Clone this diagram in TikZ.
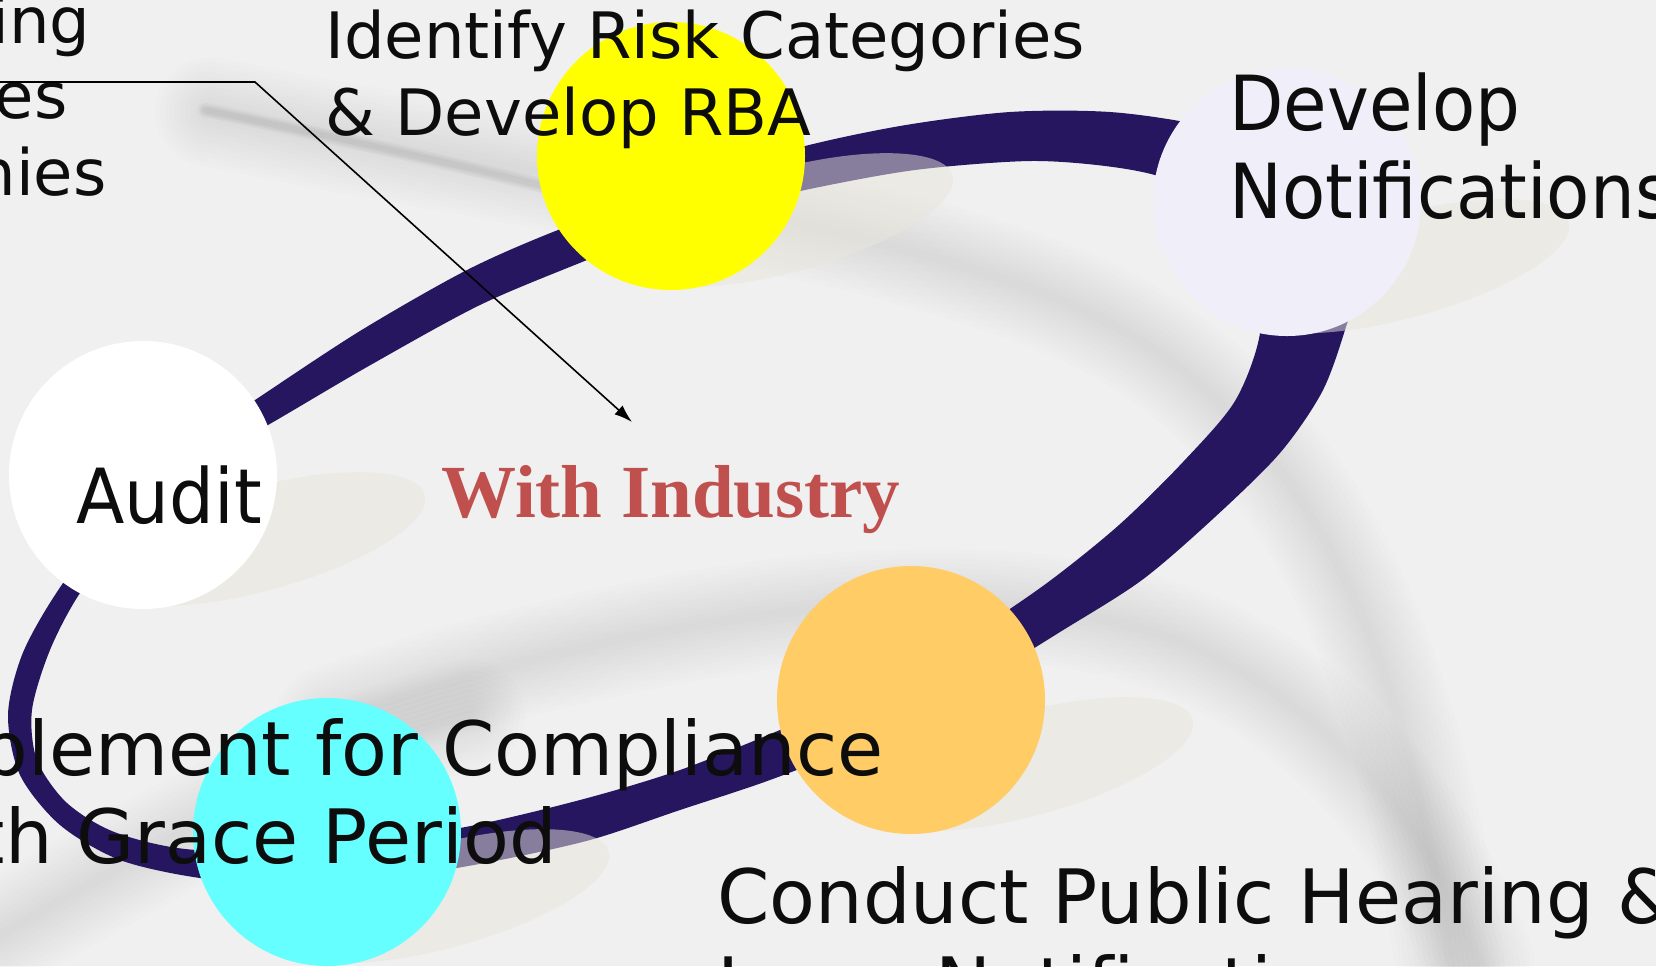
\documentclass[tikz,border=0pt]{standalone}
\usepackage{fontspec}
\setmainfont{DejaVu Sans}
\newfontfamily\narrowsans[FakeStretch=0.93]{DejaVu Sans}
\newfontfamily\headserif{Liberation Serif}
\usetikzlibrary{calc,arrows.meta}
\definecolor{ringblue}{HTML}{261660}
\definecolor{paper}{HTML}{F0F0F0}
\definecolor{shadowc}{HTML}{E8E6DC}
\definecolor{yellowc}{HTML}{FFFF00}
\definecolor{lavc}{HTML}{F0EEF8}
\definecolor{orangec}{HTML}{FFCC66}
\definecolor{cyanc}{HTML}{66FFFF}
\definecolor{redtxt}{HTML}{C0504D}
\definecolor{txt}{HTML}{0D0D0D}

\begin{document}
\begin{tikzpicture}[x=0.5pt,y=-0.5pt,
    ball/.style={circle,minimum size=134pt,inner sep=0pt},
    ballshadow/.style={fill=shadowc,opacity=0.5},
    swoosh/.style={draw=black,opacity=0.009,line cap=round},
    lbl/.style={inner sep=0pt,text=txt,align=left},
    pointer/.style={draw=black,line width=0.8pt,-{Latex[length=9pt,width=6pt]}}]
    \useasboundingbox (0,0) rectangle (1656,966);
    \fill[paper] (0,0) rectangle (1656,966);
    \foreach \w in {110,100,...,10}{
      \draw[swoosh,line width=\w*0.5pt] (210,112) .. controls (520,175) and (850,215) .. (1060,300) .. controls (1280,390) and (1400,600) .. (1450,966);
      \draw[swoosh,line width=\w*0.5pt] (330,720) .. controls (650,610) and (1000,560) .. (1200,650) .. controls (1350,720) and (1440,850) .. (1480,966);
      \draw[swoosh,line width=\w*0.5pt] (0,935) .. controls (150,850) and (300,760) .. (470,715);
    }
    \foreach \w in {14,10,6}
      \draw[swoosh,opacity=0.03,line width=\w*0.5pt] (205,110) .. controls (350,140) and (480,170) .. (600,200);
    \fill[ringblue,even odd rule]
      plot[smooth cycle] coordinates {(110,520) (180,450) (255,400) (360,331) (467,270) (558,230) (670,190) (790,150) (900,126) (1010,112) (1110,112) (1200,125) (1285,150) (1340,200) (1362,265) (1345,330) (1322,392) (1280,453) (1215,517) (1142,580) (1060,632) (965,690) (865,742) (770,780) (680,810) (590,840) (490,862) (390,878) (290,884) (200,878) (120,860) (60,825) (20,775) (8,715) (22,655) (55,595)}
      plot[smooth cycle] coordinates {(268,425) (367,367) (480,305) (587,260) (700,215) (805,190) (915,170) (1030,161) (1113,167) (1170,180) (1222,212) (1255,265) (1260,333) (1235,401) (1183,462) (1119,525) (1047,583) (970,635) (885,685) (780,730) (680,770) (580,800) (460,828) (330,845) (197,850) (117,833) (67,803) (37,760) (32,710) (50,650) (80,593) (130,530) (190,468)};
    \coordinate (c1) at (671,156);
    \coordinate (c2) at (1287,202);
    \coordinate (c3) at (911,700);
    \coordinate (c4) at (327,832);
    \coordinate (c5) at (143,475);
    \foreach \c in {c1,c2,c3,c4,c5}
      \fill[ballshadow,rotate around={15:($(\c)+(95,92)$)}] ($(\c)+(95,92)$) ellipse [x radius=172,y radius=52];
    \node[ball,fill=yellowc] (risk) at (c1) {};
    \node[ball,fill=lavc] (notify) at (c2) {};
    \node[ball,fill=orangec] (hearing) at (c3) {};
    \node[ball,fill=cyanc] (comply) at (c4) {};
    \node[ball,fill=white] (audit) at (c5) {};
    \node[lbl,anchor=base east,font=\fontsize{32pt}{38.5pt}\selectfont] (frag1) at (91,43) {ing};
    \node[lbl,anchor=base east,font=\fontsize{32pt}{38.5pt}\selectfont] (frag2) at (68,118) {es};
    \node[lbl,anchor=base east,font=\fontsize{32pt}{38.5pt}\selectfont] (frag3) at (107,195) {nies};
    \node[lbl,anchor=base west,font=\fontsize{32pt}{38.5pt}\selectfont] (risktxt) at (325,135) {Identify Risk Categories\\\& Develop RBA};
    \node[lbl,anchor=base west,font=\narrowsans\fontsize{38pt}{44pt}\selectfont] (notifytxt) at (1229,218) {Develop\\Notifications};
    \node[lbl,anchor=base west,font=\narrowsans\fontsize{38pt}{44pt}\selectfont] (audittxt) at (76,523) {Audit};
    \node[inner sep=0pt,anchor=base west,text=redtxt,font=\headserif\bfseries\fontsize{37.5pt}{44pt}\selectfont] (industry) at (441,517) {With Industry};
    \node[lbl,anchor=base east,font=\fontsize{37.5pt}{44pt}\selectfont] (complytxt) at (884,775) {plement for Compliance};
    \node[lbl,anchor=base east,font=\fontsize{37.5pt}{44pt}\selectfont] (gracetxt) at (557,863) {th Grace Period};
    \node[lbl,anchor=base west,font=\fontsize{37.5pt}{44pt}\selectfont] (hearingtxt) at (717,1011) {Conduct Public Hearing \&\\Issue Notification};
    \coordinate (lead) at (0,82);
    \coordinate (bend) at (255,82);
    \coordinate (tip) at (632,422);
    \draw[pointer] (lead) -- (bend) -- (tip);
\end{tikzpicture}
\end{document}
